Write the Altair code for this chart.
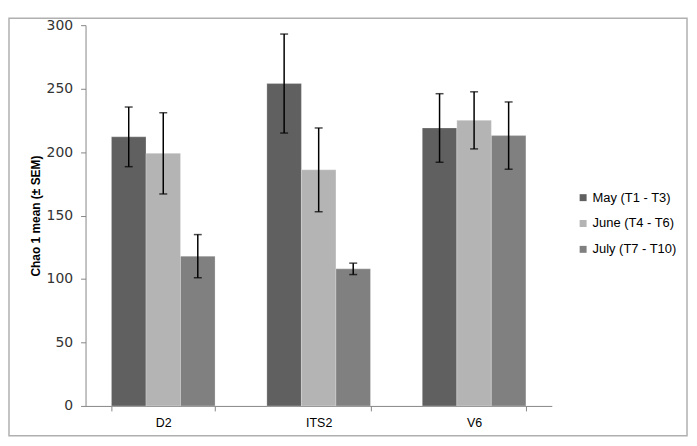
import altair as alt
import pandas as pd

groups = ["D2", "ITS2", "V6"]
series = ["May (T1 - T3)", "June (T4 - T6)", "July (T7 - T10)"]
colors = ["#606060", "#b4b4b4", "#808080"]
may_mean = [212, 254, 219]
june_mean = [199, 186, 225]
july_mean = [118, 108, 213]
may_sem = [23.5, 39, 27]
june_sem = [32, 33, 22.5]
july_sem = [17, 4.5, 26.5]

rows = []
for s, means, sems in zip(series, [may_mean, june_mean, july_mean], [may_sem, june_sem, july_sem]):
    for g, m, e in zip(groups, means, sems):
        rows.append({"group": g, "series": s, "mean": m, "lo": m - e, "hi": m + e})
df = pd.DataFrame(rows)

AX = "#868686"
x_enc = alt.X("group:N", sort=groups,
              scale=alt.Scale(paddingInner=1/3, paddingOuter=1/6),
              axis=alt.Axis(title=None, labelAngle=0, tickBand="extent"))
xo_enc = alt.XOffset("series:N", sort=series, scale=alt.Scale(paddingInner=0, paddingOuter=0))
y_scale = alt.Scale(domain=[0, 300], nice=False)
y_axis = alt.Axis(values=[0, 50, 100, 150, 200, 250, 300], grid=False,
                  title="Chao 1 mean (± SEM)")

base = alt.Chart(df)

bars = base.mark_bar(stroke="#ffffff", strokeWidth=0.4, strokeOpacity=0.6).encode(
    x=x_enc,
    xOffset=xo_enc,
    y=alt.Y("mean:Q", scale=y_scale, axis=y_axis),
    color=alt.Color("series:N", sort=series,
                    scale=alt.Scale(domain=series, range=colors),
                    legend=alt.Legend(title=None, orient="none", legendX=494, legendY=167)),
)

rules = base.mark_rule(color="#000000", strokeWidth=1.5).encode(
    x=x_enc, xOffset=xo_enc,
    y=alt.Y("lo:Q", scale=y_scale, axis=y_axis), y2="hi:Q",
)
cap_lo = base.mark_tick(color="#000000", thickness=1.5, size=8).encode(
    x=x_enc, xOffset=xo_enc, y=alt.Y("lo:Q", scale=y_scale, axis=y_axis),
)
cap_hi = base.mark_tick(color="#000000", thickness=1.5, size=8).encode(
    x=x_enc, xOffset=xo_enc, y=alt.Y("hi:Q", scale=y_scale, axis=y_axis),
)

frame = alt.Chart(pd.DataFrame({"k": [0]})).mark_rect(
    fill=None, stroke="#b0b0b0", strokeWidth=1.5
).encode(
    x=alt.value(-77), x2=alt.value(605), y=alt.value(-7), y2=alt.value(413),
)

chart = alt.layer(bars, rules, cap_lo, cap_hi, frame).properties(
    width=469, height=383,
    autosize=alt.AutoSizeParams(type="none"),
    padding={"left": 78, "top": 16, "right": 138, "bottom": 32},
    background="#ffffff",
).configure_view(
    stroke=None
).configure_axis(
    domainColor=AX, tickColor=AX, tickSize=5, labelColor="#000000",
).configure_axisY(
    labelFont="DejaVu Sans", labelFontSize=14, labelPadding=8, labelColor="#333333",
    titleFont="Liberation Sans", titleFontSize=12, titleFontWeight="bold",
    titleColor="#000000", titlePadding=4,
).configure_axisX(
    labelFont="Liberation Sans", labelFontSize=12.5, labelPadding=6,
).configure_legend(
    symbolType="square", symbolSize=49, symbolStrokeWidth=0,
    labelFont="Liberation Sans", labelFontSize=13, labelColor="#000000",
    rowPadding=12, labelOffset=3,
)

chart.save("out.html", embed_options={"renderer": "svg", "actions": False})
